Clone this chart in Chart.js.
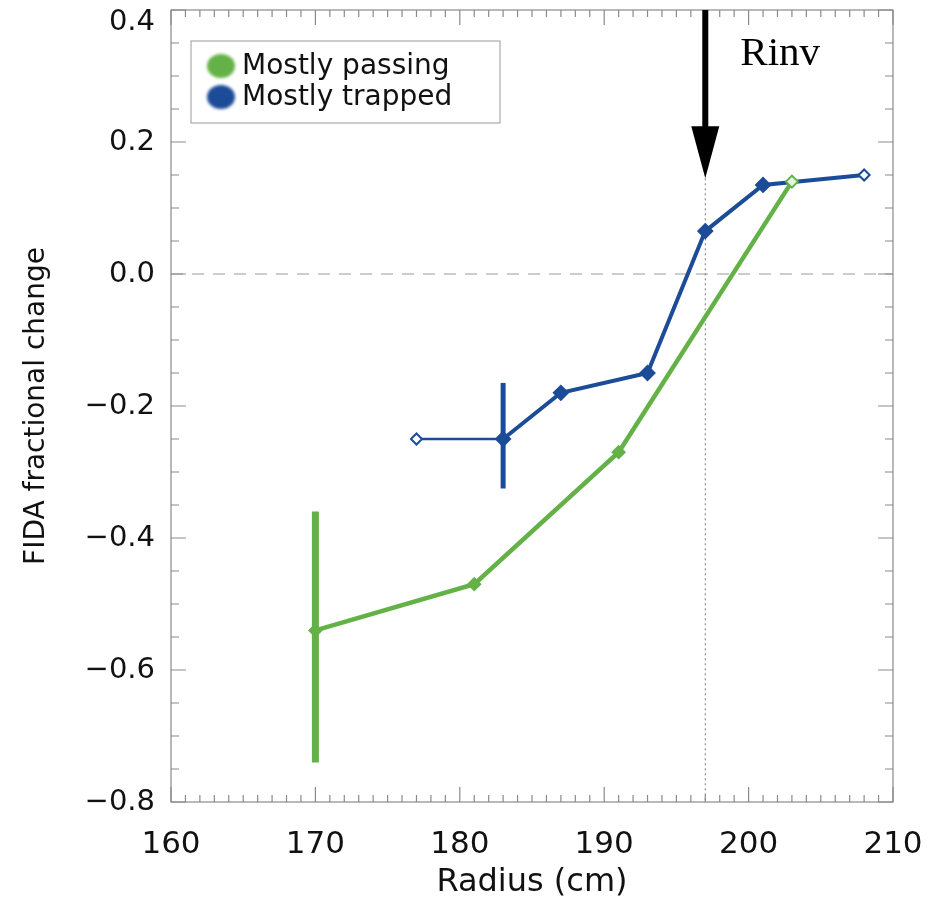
<!DOCTYPE html>
<html>
<head>
<meta charset="utf-8">
<title>FIDA fractional change</title>
<script src="https://cdn.jsdelivr.net/npm/chart.js@4/dist/chart.umd.min.js"></script>
<style>
  body { margin: 0; background: #fff; }
  canvas { display: block; }
</style>
</head>
<body>
<canvas id="fida" width="941" height="906"></canvas>
<script>
// Mostly passing particles
const radiusPassing = [170, 181, 191, 203];
const changePassing = [-0.54, -0.47, -0.27, 0.14];
const errLowPassing = [-0.74, null, null, null];
const errHighPassing = [-0.36, null, null, null];
const openPassing = [false, false, false, true];

// Mostly trapped particles
const radiusTrapped = [177, 183, 187, 193, 197, 201, 208];
const changeTrapped = [-0.25, -0.25, -0.18, -0.15, 0.065, 0.135, 0.15];
const errLowTrapped = [null, -0.325, null, null, null, null, null];
const errHighTrapped = [null, -0.165, null, null, null, null, null];
const openTrapped = [true, false, false, false, false, false, true];

// inversion radius marker
const rInv = 197;
const rInvTip = 0.145;

const GREEN = '#64b247';
const BLUE = '#1c4c98';
const AXIS = '#8a8a8a';

function points(xs, ys) {
    return xs.map((x, i) => ({ x: x, y: ys[i] }));
}

const frame = {
    id: 'frame',
    beforeDraw(chart) {
        // keep the top y label inside the canvas
        const items = chart.scales.y.getLabelItems(chart.chartArea);
        items.forEach(it => {
            const t = it.options.translation;
            if (t[1] < chart.chartArea.top + 12) t[1] = chart.chartArea.top + 12;
        });
    },
    beforeDatasetsDraw(chart) {
        const ctx = chart.ctx;
        const a = chart.chartArea;
        const x = chart.scales.x, y = chart.scales.y;
        ctx.save();
        // zero line
        ctx.strokeStyle = '#999';
        ctx.lineWidth = 1.2;
        ctx.setLineDash([12, 9]);
        ctx.beginPath();
        ctx.moveTo(a.left, y.getPixelForValue(0));
        ctx.lineTo(a.right, y.getPixelForValue(0));
        ctx.stroke();
        // dotted line at Rinv
        ctx.strokeStyle = '#777';
        ctx.lineWidth = 1;
        ctx.setLineDash([2, 3]);
        ctx.beginPath();
        ctx.moveTo(x.getPixelForValue(rInv), y.getPixelForValue(rInvTip));
        ctx.lineTo(x.getPixelForValue(rInv), a.bottom);
        ctx.stroke();
        ctx.setLineDash([]);
        // error bars
        const bars = [
            [radiusPassing, errLowPassing, errHighPassing, GREEN, 7],
            [radiusTrapped, errLowTrapped, errHighTrapped, BLUE, 5]
        ];
        bars.forEach(([xs, lo, hi, col, w]) => {
            ctx.strokeStyle = col;
            ctx.lineWidth = w;
            xs.forEach((r, i) => {
                if (lo[i] === null) return;
                ctx.beginPath();
                ctx.moveTo(x.getPixelForValue(r), y.getPixelForValue(lo[i]));
                ctx.lineTo(x.getPixelForValue(r), y.getPixelForValue(hi[i]));
                ctx.stroke();
            });
        });
        ctx.restore();
    },
    afterDatasetsDraw(chart) {
        const ctx = chart.ctx;
        const a = chart.chartArea;
        const x = chart.scales.x, y = chart.scales.y;
        ctx.save();

        // box
        ctx.strokeStyle = AXIS;
        ctx.lineWidth = 1.2;
        ctx.strokeRect(a.left, a.top, a.right - a.left, a.bottom - a.top);

        // inward ticks, major and minor
        ctx.beginPath();
        for (let r = 160; r <= 210; r++) {
            const px = x.getPixelForValue(r);
            const len = r % 10 === 0 ? 15 : 7;
            ctx.moveTo(px, a.bottom); ctx.lineTo(px, a.bottom - len);
            ctx.moveTo(px, a.top); ctx.lineTo(px, a.top + len);
        }
        for (let k = -16; k <= 8; k++) {
            const py = y.getPixelForValue(k * 0.05);
            const len = k % 4 === 0 ? 15 : 8;
            ctx.moveTo(a.left, py); ctx.lineTo(a.left + len, py);
            ctx.moveTo(a.right, py); ctx.lineTo(a.right - len, py);
        }
        ctx.stroke();

        // arrow down to Rinv
        const ax = x.getPixelForValue(rInv);
        const tip = y.getPixelForValue(rInvTip);
        ctx.fillStyle = '#000';
        ctx.fillRect(ax - 3, a.top, 6, tip - 50 - a.top);
        ctx.beginPath();
        ctx.moveTo(ax - 14, tip - 52);
        ctx.lineTo(ax + 14, tip - 52);
        ctx.lineTo(ax, tip);
        ctx.closePath();
        ctx.fill();
        ctx.font = '41px "Liberation Serif"';
        ctx.textBaseline = 'alphabetic';
        ctx.fillText('Rinv', ax + 35, a.top + 55);

        // legend
        const lx = a.left + 20, ly = a.top + 31;
        ctx.fillStyle = '#fff';
        ctx.fillRect(lx, ly, 309, 82);
        ctx.strokeStyle = '#999';
        ctx.lineWidth = 1;
        ctx.strokeRect(lx, ly, 309, 82);
        ctx.font = '28px "DejaVu Sans"';
        ctx.textBaseline = 'middle';
        chart.data.datasets.forEach((ds, i) => {
            const cy = ly + 25 + i * 31;
            ctx.save();
            ctx.filter = 'blur(1.5px)';
            ctx.fillStyle = ds.borderColor;
            ctx.beginPath();
            ctx.ellipse(lx + 30, cy, 14, 12, 0, 0, Math.PI * 2);
            ctx.fill();
            ctx.restore();
            ctx.fillStyle = '#111';
            ctx.fillText(ds.label, lx + 51, cy + 1);
        });
        ctx.restore();
    }
};

const chart = new Chart(document.getElementById('fida'), {
    type: 'scatter',
    data: {
        datasets: [
            {
                label: 'Mostly passing',
                data: points(radiusPassing, changePassing),
                showLine: true,
                borderColor: GREEN,
                borderWidth: 4.5,
                pointStyle: 'rectRot',
                pointRadius: 6,
                pointBorderWidth: 2,
                pointBorderColor: GREEN,
                pointBackgroundColor: openPassing.map(o => o ? '#e6f3df' : GREEN)
            },
            {
                label: 'Mostly trapped',
                data: points(radiusTrapped, changeTrapped),
                showLine: true,
                borderColor: BLUE,
                borderWidth: 4,
                segment: {
                    borderWidth: c => c.p0DataIndex === 0 ? 2.5 : 4
                },
                pointStyle: 'rectRot',
                pointRadius: openTrapped.map(o => o ? 5.5 : 7),
                pointBorderWidth: 2,
                pointBorderColor: BLUE,
                pointBackgroundColor: openTrapped.map(o => o ? '#fff' : BLUE)
            }
        ]
    },
    options: {
        responsive: false,
        animation: false,
        layout: { padding: { top: 10, right: 48, left: 0, bottom: 0 } },
        plugins: {
            legend: { display: false },
            tooltip: { enabled: false }
        },
        scales: {
            x: {
                min: 160,
                max: 210,
                grid: { display: false, drawTicks: false },
                border: { display: false },
                ticks: {
                    stepSize: 10,
                    maxRotation: 0,
                    padding: 24,
                    color: '#111',
                    font: { family: 'DejaVu Sans', size: 31 }
                },
                title: {
                    display: true,
                    text: 'Radius (cm)',
                    color: '#111',
                    font: { family: 'DejaVu Sans', size: 32 },
                    padding: { top: 0, bottom: 4 }
                },
                afterFit: s => {
                    s.height = 104;
                    s.paddingLeft = 0;
                    s.paddingRight = 0;
                }
            },
            y: {
                min: -0.8,
                max: 0.4,
                grid: { display: false, drawTicks: false },
                border: { display: false },
                ticks: {
                    stepSize: 0.2,
                    padding: 16,
                    color: '#111',
                    font: { family: 'DejaVu Sans', size: 29 },
                    callback: v => {
                        const s = Math.abs(v).toFixed(1);
                        return v < -1e-9 ? '\u2212' + s : s;
                    }
                },
                title: {
                    display: true,
                    text: 'FIDA fractional change',
                    color: '#111',
                    font: { family: 'DejaVu Sans', size: 28 },
                    padding: { top: 20, bottom: 0 }
                },
                afterFit: s => {
                    s.width = 171;
                    s.paddingTop = 0;
                    s.paddingBottom = 0;
                }
            }
        }
    },
    plugins: [frame]
});
</script>
</body>
</html>
